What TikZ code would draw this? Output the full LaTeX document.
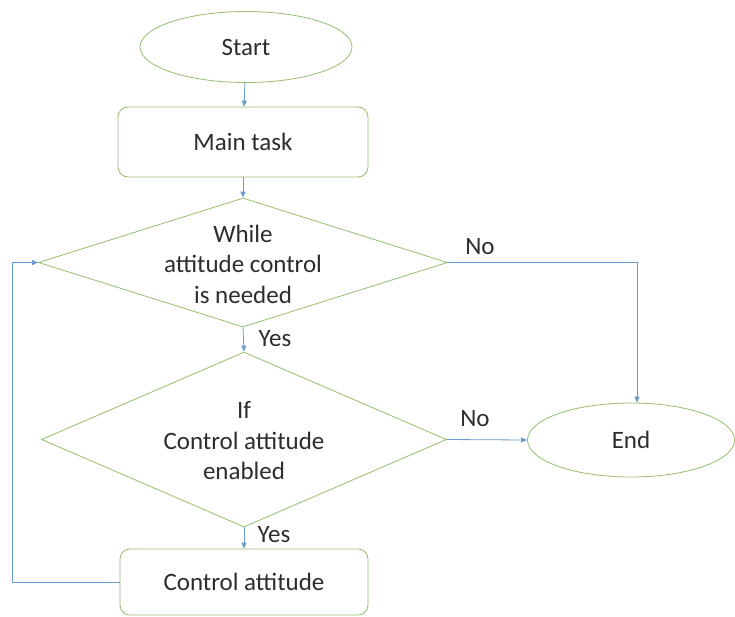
\documentclass[tikz,border=0pt]{standalone}
\usepackage{fontspec}
\setmainfont{Carlito}
\usetikzlibrary{shapes.geometric,arrows.meta}
\definecolor{outl}{RGB}{150,190,110}
\definecolor{conn}{RGB}{105,155,205}
\definecolor{txt}{RGB}{45,45,45}
\begin{document}
\begin{tikzpicture}[x=1pt,y=-1pt,
  every node/.style={font=\fontsize{25}{30.5}\selectfont, text=txt},
  term/.style={draw=outl, line width=0.8pt, ellipse, inner sep=0pt},
  proc/.style={draw=outl, line width=0.8pt, rectangle, rounded corners=10pt, inner sep=0pt},
  dec/.style={draw=outl, line width=0.8pt, diamond, inner sep=0pt},
  conline/.style={draw=conn, line width=0.8pt, -{Triangle[length=6pt,width=5pt]}},
  lbl/.style={inner sep=0pt}
]
\useasboundingbox (0,0) rectangle (735,616);
\fill[white] (0,0) rectangle (735,616);

\node[term, minimum width=212pt, minimum height=71pt] (start) at (246,47) {Start};
\node[proc, minimum width=250pt, minimum height=70pt] (main) at (243,142) {Main task};
\node[dec, minimum width=409pt, minimum height=129pt] (d1) at (243,262.5) {};
\node[align=center, inner sep=0pt] (d1t) at (243,264) {While\\attitude control\\is needed};
\node[dec, minimum width=405pt, minimum height=175pt] (d2) at (244,439.5) {};
\node[align=center, inner sep=0pt] (d2t) at (244,441) {If\\Control attitude\\enabled};
\node[term, minimum width=207pt, minimum height=74pt] (end) at (631,440) {End};
\node[proc, minimum width=248pt, minimum height=66pt] (ctrl) at (244,582) {Control attitude};

\draw[conline] (start) -- (main);
\draw[conline] (main) -- (d1);
\draw[conline] (d1.south) -- (d2.north);
\draw[conline] (d2.south) -- (ctrl.north);
\draw[conline] (d1.east) -| ([xshift=6pt]end.north);
\draw[conline] (d2.east) -- (end.west);
\draw[conline] (ctrl.west) -- ++(-107,0) |- (d1.west);

\node[lbl] (no1) at (480,247) {No};
\node[lbl] (no2) at (475,419) {No};
\node[lbl] (yes1) at (275,339) {Yes};
\node[lbl] (yes2) at (274,535) {Yes};
\end{tikzpicture}
\end{document}
